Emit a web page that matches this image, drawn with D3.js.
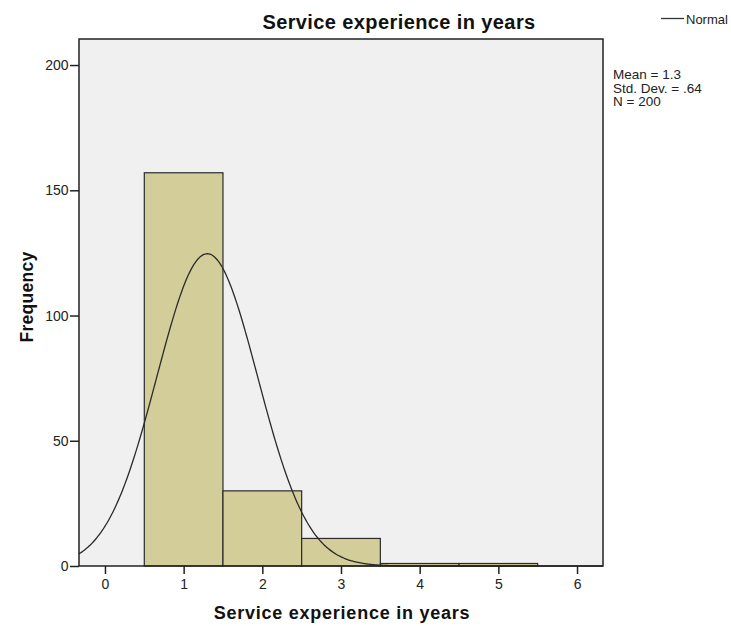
<!DOCTYPE html>
<html>
<head>
<meta charset="utf-8">
<script src="https://cdn.jsdelivr.net/npm/d3@7"></script>
<style>
  body { margin: 0; background: #fff; }
  svg { display: block; font-family: "Liberation Sans", Arial, sans-serif; }
</style>
</head>
<body>
<svg id="chart" width="731" height="626"></svg>
<script>
// Histogram bins of service experience (years)
const binStarts = [0.5, 1.5, 2.5, 3.5, 4.5];
const binEnds   = [1.5, 2.5, 3.5, 4.5, 5.5];
const counts    = [157, 30, 11, 1, 1];
const xTicks    = [0, 1, 2, 3, 4, 5, 6];
const yTicks    = [0, 50, 100, 150, 200];
const statLabels = ["Mean = 1.3", "Std. Dev. = .64", "N = 200"];
const mean = 1.3, sd = 0.64, n = 200, binWidth = 1;

const svg = d3.select("#chart");
const plot = { left: 79, right: 603, top: 39, bottom: 566 };

const x = d3.scaleLinear().domain([-0.33, 6.33]).range([plot.left, plot.right]);
const y = d3.scaleLinear().domain([0, 210.4]).range([plot.bottom, plot.top]);

// plot background
svg.append("rect")
  .attr("x", plot.left).attr("y", plot.top)
  .attr("width", plot.right - plot.left).attr("height", plot.bottom - plot.top)
  .attr("fill", "#f0f0f0");

// bars
svg.append("g").selectAll("rect")
  .data(counts)
  .join("rect")
  .attr("x", (d, i) => x(binStarts[i]))
  .attr("width", (d, i) => x(binEnds[i]) - x(binStarts[i]))
  .attr("y", d => y(d))
  .attr("height", d => y(0) - y(d))
  .attr("fill", "#d3ce99")
  .attr("stroke", "#2b2b2b")
  .attr("stroke-width", 1.2);

// normal curve scaled to counts
const pdf = v => n * binWidth * Math.exp(-0.5 * ((v - mean) / sd) ** 2) / (sd * Math.sqrt(2 * Math.PI));
const xs = d3.range(0, 401).map(i => -0.33 + i * (6.66 / 400));
svg.append("path")
  .datum(xs)
  .attr("fill", "none")
  .attr("stroke", "#2a2a2a")
  .attr("stroke-width", 1.3)
  .attr("d", d3.line().x(v => x(v)).y(v => y(pdf(v))).curve(d3.curveBasis));

// frame
svg.append("rect")
  .attr("x", plot.left).attr("y", plot.top)
  .attr("width", plot.right - plot.left).attr("height", plot.bottom - plot.top)
  .attr("fill", "none").attr("stroke", "#222").attr("stroke-width", 1.5);

// axes
const xAxis = svg.append("g")
  .attr("transform", `translate(0,${plot.bottom})`)
  .call(d3.axisBottom(x).tickValues(xTicks).tickSize(8).tickSizeOuter(0).tickFormat(d3.format("d")));
xAxis.select(".domain").remove();
xAxis.selectAll(".tick line").attr("stroke", "#222").attr("stroke-width", 1.5);
xAxis.selectAll(".tick text").attr("font-size", 14).attr("fill", "#222")
  .attr("y", 23).attr("dy", null);

const yAxis = svg.append("g")
  .attr("transform", `translate(${plot.left},0)`)
  .call(d3.axisLeft(y).tickValues(yTicks).tickSize(9).tickSizeOuter(0).tickFormat(d3.format("d")));
yAxis.select(".domain").remove();
yAxis.selectAll(".tick line").attr("stroke", "#222").attr("stroke-width", 1.5);
yAxis.selectAll(".tick text").attr("font-size", 14).attr("fill", "#222").attr("x", -10.5);

// titles
svg.append("text")
  .attr("x", 399).attr("y", 29)
  .attr("text-anchor", "middle")
  .attr("font-size", 20).attr("font-weight", "bold").attr("fill", "#111")
  .attr("letter-spacing", 0.4)
  .text("Service experience in years");

svg.append("text")
  .attr("x", 342).attr("y", 619)
  .attr("text-anchor", "middle")
  .attr("font-size", 18).attr("font-weight", "bold").attr("fill", "#111")
  .attr("letter-spacing", 0.75)
  .text("Service experience in years");

svg.append("text")
  .attr("transform", `translate(33,297) rotate(-90)`)
  .attr("text-anchor", "middle")
  .attr("font-size", 17.5).attr("font-weight", "bold").attr("fill", "#111")
  .attr("letter-spacing", 0.3)
  .text("Frequency");

// legend
svg.append("line")
  .attr("x1", 661).attr("x2", 684).attr("y1", 18.5).attr("y2", 18.5)
  .attr("stroke", "#333").attr("stroke-width", 1.3);
svg.append("text")
  .attr("x", 686).attr("y", 24)
  .attr("font-size", 13).attr("fill", "#222")
  .text("Normal");

svg.append("g").selectAll("text")
  .data(statLabels)
  .join("text")
  .attr("x", 613).attr("y", (d, i) => 79 + i * 13.7)
  .attr("font-size", 13.5).attr("fill", "#222")
  .text(d => d);
</script>
</body>
</html>
